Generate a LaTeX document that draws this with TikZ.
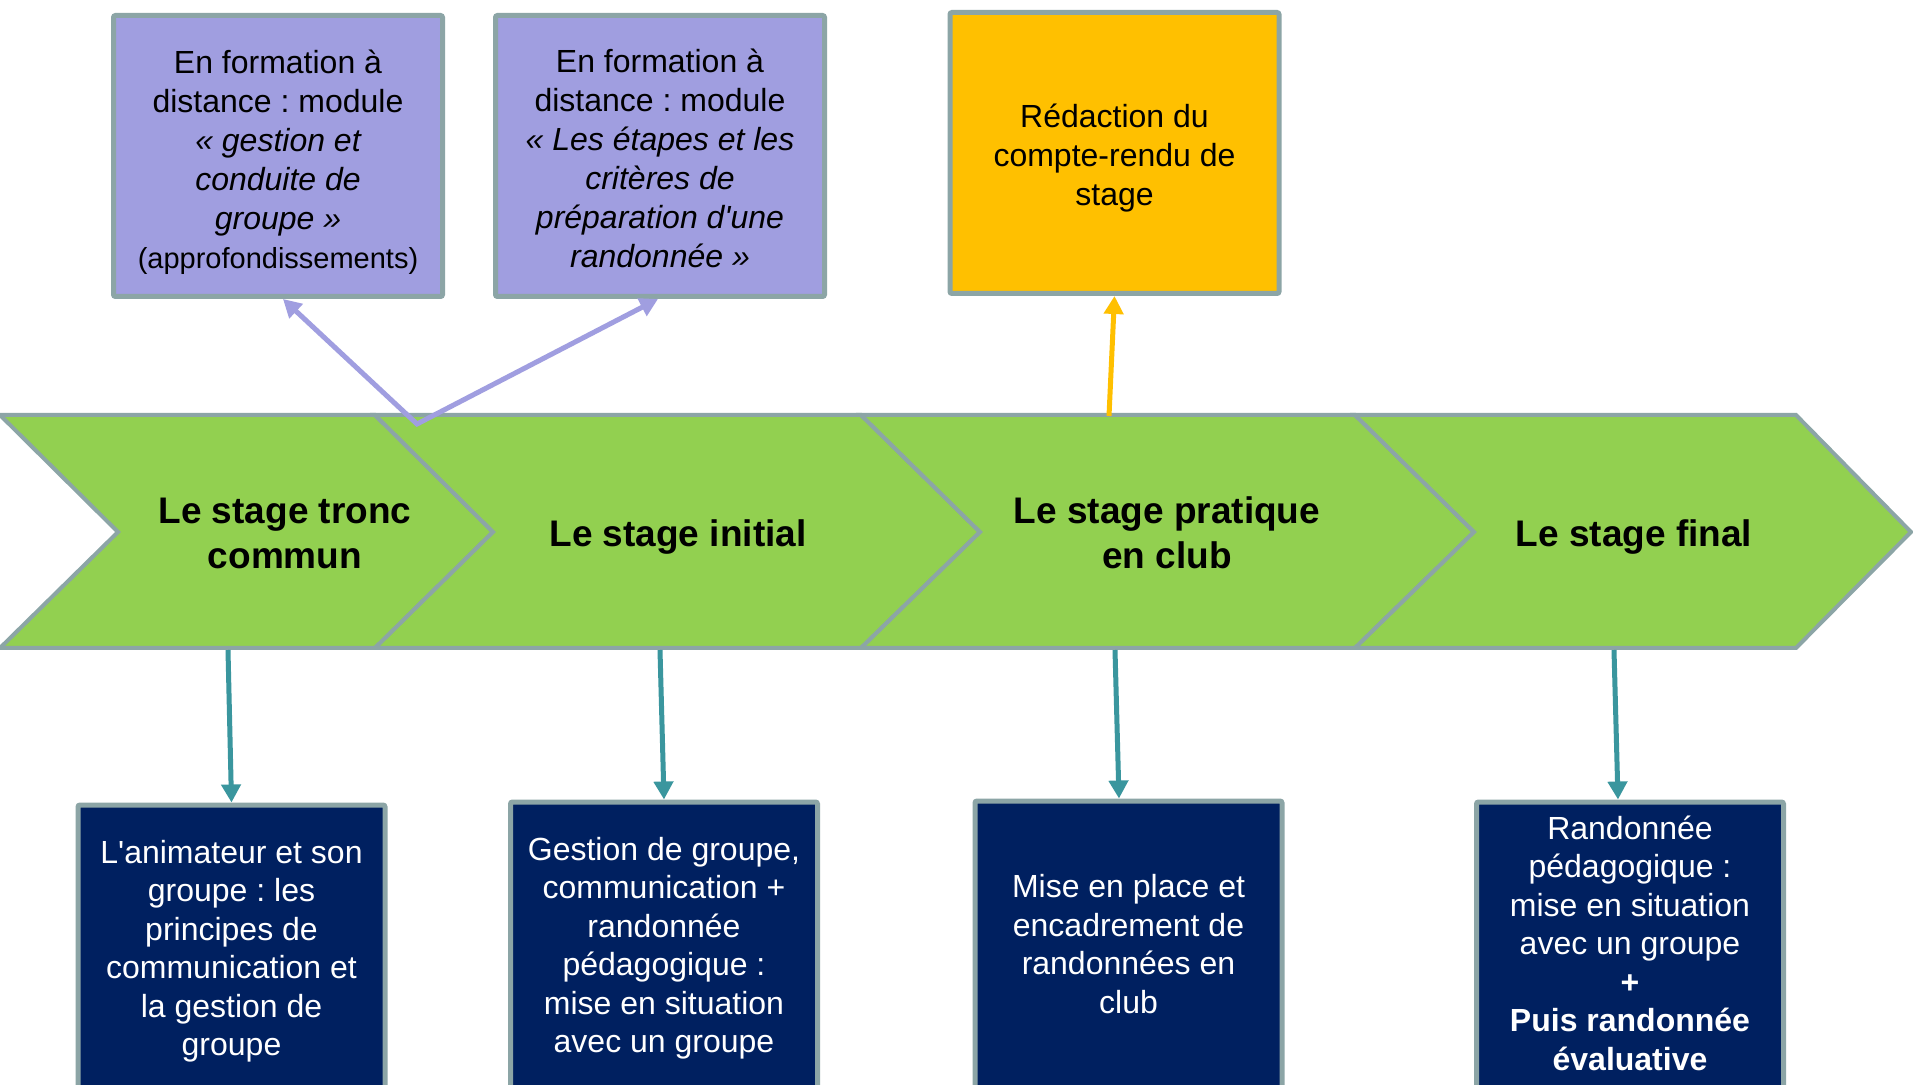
\documentclass[tikz,border=0pt]{standalone}
\usepackage{fontspec}
\setmainfont{Liberation Sans}
\frenchspacing
\usetikzlibrary{arrows.meta,calc}
\definecolor{chgreen}{RGB}{146,208,80}
\definecolor{bordgray}{RGB}{140,165,166}
\definecolor{lav}{RGB}{160,158,224}
\definecolor{gold}{RGB}{255,192,0}
\definecolor{navy}{RGB}{0,32,96}
\definecolor{tealarr}{RGB}{58,150,158}
\begin{document}
\begin{tikzpicture}[x=0.5pt,y=-0.5pt,
  chev/.style={fill=chgreen,draw=bordgray,line width=2pt,line join=miter},
  chevtext/.style={font=\bfseries\fontsize{18.5}{22.5}\selectfont,align=center,text=black,inner sep=0pt},
  topbox/.style={draw=bordgray,line width=2.5pt,rounded corners=1pt,minimum width=164.5pt,minimum height=140.5pt,inner sep=0pt},
  lavbox/.style={topbox,fill=lav},
  goldbox/.style={topbox,fill=gold},
  toptext/.style={align=center,font=\fontsize{16}{19.5}\selectfont,inner sep=0pt,text=black},
  navybox/.style={draw=bordgray,line width=2.5pt,rounded corners=1pt,fill=navy,minimum width=153.5pt,minimum height=144pt,inner sep=0pt},
  navytext/.style={align=center,font=\fontsize{16}{19.25}\selectfont,inner sep=0pt,text=white},
  arr/.style={line width=2.5pt,-{Triangle[length=9pt,width=9.5pt]}},
  tealarrow/.style={arr,draw=tealarr,fill=tealarr},
  goldarrow/.style={arr,draw=gold,fill=gold},
  lavarrow/.style={line width=2.5pt,draw=lav,line join=miter,{Triangle[length=9pt,width=9.5pt]}-{Triangle[length=9pt,width=9.5pt]}}
]
\clip (0,0) rectangle (1913,1085);
\fill[white] (0,0) rectangle (1913,1085);

% chevrons
\draw[chev] (0,415) -- (375,415) -- (493,532) -- (375,648) -- (0,648) -- (118,532) -- cycle;
\draw[chev] (375,415) -- (861,415) -- (980,532) -- (861,648) -- (375,648) -- (493,532) -- cycle;
\draw[chev] (861,415) -- (1355,415) -- (1474,532) -- (1355,648) -- (861,648) -- (980,532) -- cycle;
\draw[chev] (1355,415) -- (1796,415) -- (1911,532) -- (1796,648) -- (1355,648) -- (1474,532) -- cycle;

\node[chevtext] (s1) at (285,533) {Le stage tronc\\commun};
\node[chevtext] (s2) at (678,537) {Le stage initial};
\node[chevtext] (s3) at (1167,533) {Le stage pratique\\en club};
\node[chevtext] (s4) at (1634,537) {Le stage final};

% top boxes
\node[lavbox] (ba) at (278,156) {};
\node[toptext] (ta) at (278,162) {En formation à\\distance : module\\{\itshape « gestion et}\\{\itshape conduite de}\\{\itshape groupe »}\\{\fontsize{14.5}{19.5}\selectfont (approfondissements)}};
\node[lavbox] (bb) at (660,156) {};
\node[toptext] (tb) at (660,158) {En formation à\\distance : module\\{\itshape « Les étapes et les}\\{\itshape critères de}\\{\itshape préparation d\textquotesingle une}\\{\itshape randonnée »}};
\node[goldbox] (bc) at (1114.5,153) {};
\node[toptext] (tc) at (1114.5,158) {Rédaction du\\compte-rendu de\\stage};

% bottom boxes
\node[navybox] (b1) at (231.5,949) {};
\node[navytext] (u1) at (231.5,951) {L\textquotesingle animateur et son\\groupe : les\\principes de\\communication et\\la gestion de\\groupe};
\node[navybox] (b2) at (664,946) {};
\node[navytext] (u2) at (664,948) {Gestion de groupe,\\communication +\\randonnée\\pédagogique :\\mise en situation\\avec un groupe};
\node[navybox] (b3) at (1128.5,945) {};
\node[navytext] (u3) at (1128.5,944) {Mise en place et\\encadrement de\\randonnées en\\club};
\node[navybox] (b4) at (1630,946) {};
\node[navytext] (u4) at (1630,943) {Randonnée\\pédagogique :\\mise en situation\\avec un groupe\\\textbf{+}\\\textbf{Puis randonnée}\\\textbf{évaluative}};

% connector origins on the chevron band
\coordinate (v) at (417,424);
\coordinate (o3) at (1109,416);
\coordinate (t1) at (228,650);
\coordinate (t2) at (660,650);
\coordinate (t3) at (1115,650);
\coordinate (t4) at (1614,650);

% arrows
\draw[lavarrow] ([xshift=2.5pt]ba.south) -- (v) -- ([xshift=-1pt]bb.south);
\draw[goldarrow] (o3) -- (bc.south);
\draw[tealarrow] (t1) -- (b1.north);
\draw[tealarrow] (t2) -- (b2.north);
\draw[tealarrow] (t3) -- ([xshift=-4.75pt]b3.north);
\draw[tealarrow] (t4) -- ([xshift=-6pt]b4.north);
\end{tikzpicture}
\end{document}
